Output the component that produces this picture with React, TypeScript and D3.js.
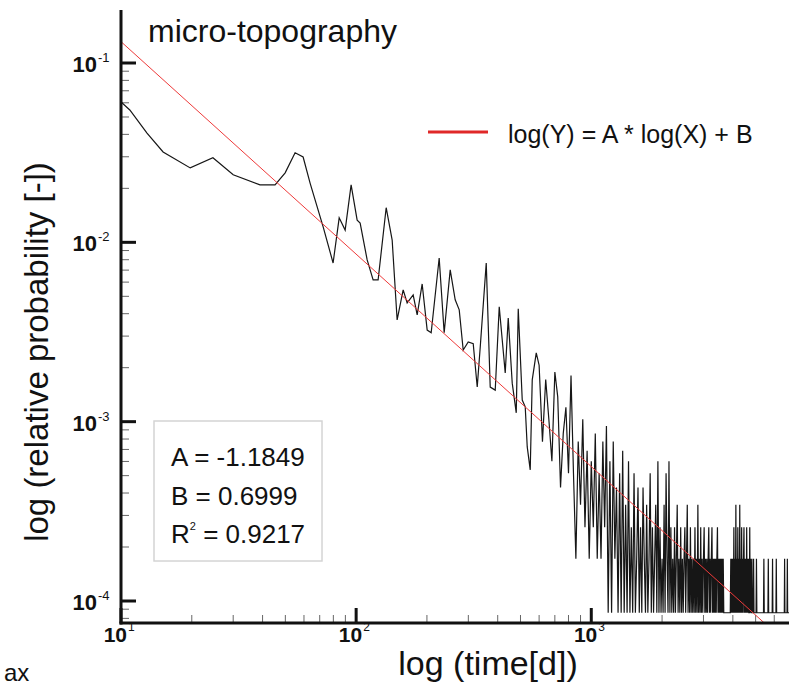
import React, { useEffect, useRef } from "react";
import * as d3 from "d3";

// smooth part of the curve, read vertex by vertex
const headDays = [
  10.0, 10.9, 12.9, 15.1, 19.7, 24.6, 30.0, 39.0, 45.2, 49.9, 55.0, 59.5, 63.7, 72.4, 79.8,
  84.7, 89.8, 95.2, 101, 104, 111.4, 118.1, 124, 134.2, 142.3, 149.4, 158.5, 164.8, 174.8,
  181.8, 190.9, 200.5, 208.5, 225.5, 236.8, 251.2, 263.8, 274.4, 285.3, 299.7, 314.7, 327.3,
  337.1, 357.5, 371.7, 390.4, 406, 430.5, 443.4, 461.1, 479.6, 489.1, 508.6, 523.7, 534.1,
  550, 560.9, 583.4,
];
const headProbs = [
  0.0607, 0.0547, 0.0407, 0.0319, 0.026, 0.0296, 0.0238, 0.0209, 0.0209, 0.0244, 0.0316,
  0.0299, 0.0214, 0.0122, 0.00767, 0.0137, 0.0117, 0.0209, 0.0133, 0.0128, 0.00798, 0.00617,
  0.00617, 0.0156, 0.0103, 0.00369, 0.00543, 0.00459, 0.00509, 0.00394, 0.00586, 0.00324,
  0.00313, 0.00818, 0.00313, 0.00702, 0.00478, 0.0042, 0.00251, 0.00278, 0.00272, 0.00156,
  0.00261, 0.00767, 0.00156, 0.0015, 0.00437, 0.00187, 0.00378, 0.00164, 0.00112, 0.00426,
  0.00132, 0.00121, 0.000723, 0.000538, 0.00171, 0.00242,
];

// noisy tail: counts sampled every 20 days from day 600
const tailStartDay = 600;
const tailStepDays = 20;
const probPerCount = 8.6e-5;
const tailCounts = [
  24, 9, 20, 12, 7, 22, 16, 5, 10, 14,
  6, 21, 6, 2, 9, 4, 12, 3, 8, 2,
  7, 3, 10, 2, 6, 2, 9, 3, 11, 1,
  7, 1, 9, 2, 5, 1, 6, 1, 8, 1,
  4, 1, 7, 1, 3, 1, 6, 1, 2, 5,
  1, 3, 1, 5, 2, 1, 4, 1, 2, 6,
  1, 3, 1, 2, 4, 1, 7, 1, 3, 1,
  2, 1, 4, 1, 6, 2, 1, 7, 1, 3,
  1, 2, 1, 3, 1, 2, 4, 1, 2, 1,
  3, 1, 2, 1, 2, 3, 1, 2, 4, 1,
  2, 1, 3, 1, 2, 1, 2, 1, 3, 1,
  2, 1, 4, 1, 2, 1, 3, 1, 2, 1,
  2, 3, 1, 2, 1, 2, 1, 2, 3, 1,
  2, 1, 2, 3, 1, 2, 1, 2, 1, 2,
  1, 2, 3, 1, 2, 1, 2, 1, 2, 1,
  2, 1, 2, 1, 1, 1, 1, 1, 1, 1,
  1, 1, 1, 1, 1, 1, 2, 1, 2, 1,
  2, 1, 3, 1, 2, 1, 4, 1, 2, 1,
  3, 1, 2, 1, 4, 1, 2, 1, 3, 1,
  2, 1, 2, 3, 1, 2, 1, 2, 1, 3,
  1, 2, 1, 2, 1, 1, 3, 1, 2, 1,
  1, 2, 1, 1, 1, 2, 1, 1, 1, 1,
  1, 1, 2, 1, 1, 1, 1, 1, 1, 1,
  1, 1, 1, 1, 1, 1, 1, 1, 1, 1,
  1, 2, 1, 1, 1, 1, 1, 1, 1, 1,
  1, 1, 1, 2, 1, 1, 1, 1, 1, 1,
  1, 1, 1, 1, 1, 2, 1, 1, 1, 1,
  1, 1, 1, 1, 1, 1, 2, 1, 1, 1,
  1, 1, 1, 1, 1, 1, 1, 1, 1, 1,
  1, 1, 1, 1, 1, 1, 1, 1, 1, 1,
  1, 1, 2, 1, 1, 1, 1, 1, 1, 1,
  1, 2, 1, 1, 1, 1, 1, 1, 1, 1, 1,
];

const fitA = -1.1849;
const fitB = 0.6999;
const fitR2 = 0.9217;

const xMajorTicks = [10, 100, 1000];
const xTickExp = ["1", "2", "3"];
const yMajorTicks = [1e-1, 1e-2, 1e-3, 1e-4];
const yTickExp = ["-1", "-2", "-3", "-4"];

const FONT = "'Liberation Sans', Arial, sans-serif";

export default function App() {
  const ref = useRef<SVGSVGElement>(null);

  useEffect(() => {
    const svg = d3.select(ref.current);
    svg.selectAll("*").remove();

    const left = 121, right = 790, top = 10, bottom = 623;
    const x = d3.scaleLog().domain([10, 7000]).range([121, 790]);
    const y = d3.scaleLog().domain([1e-4, 1e-1]).range([601, 63]);

    const series: [number, number][] = headDays.map((d, i) => [d, headProbs[i]]);
    tailCounts.forEach((c, i) => series.push([tailStartDay + i * tailStepDays, c * probPerCount]));

    svg.append("defs").append("clipPath").attr("id", "plotclip")
      .append("rect").attr("x", left).attr("y", top)
      .attr("width", right - left).attr("height", bottom - top);

    // minor ticks first, data drawn over them
    const xMinor = x.ticks().filter((t) => !xMajorTicks.includes(t));
    svg.append("g").selectAll("line").data(xMinor).join("line")
      .attr("x1", (d) => x(d)).attr("x2", (d) => x(d))
      .attr("y1", bottom).attr("y2", bottom - 8)
      .attr("stroke", "#666").attr("stroke-width", 1);

    const yMinor = d3.scaleLog().domain([7.6e-5, 0.199]).ticks()
      .filter((t) => !yMajorTicks.some((m) => Math.abs(m - t) / m < 1e-6));
    svg.append("g").selectAll("line").data(yMinor).join("line")
      .attr("x1", left).attr("x2", left + 8)
      .attr("y1", (d) => y(d)).attr("y2", (d) => y(d))
      .attr("stroke", "#666").attr("stroke-width", 1);

    const plot = svg.append("g").attr("clip-path", "url(#plotclip)");
    const line = d3.line<[number, number]>().x((d) => x(d[0])).y((d) => y(d[1]));
    plot.append("path").datum(series)
      .attr("d", line)
      .attr("fill", "none")
      .attr("stroke", "#161616")
      .attr("stroke-width", 1.2);

    // fitted power law, ln(Y) = A ln(X) + B
    const fitPts: [number, number][] = [10, 7000].map((d) => [d, Math.exp(fitA * Math.log(d) + fitB)]);
    plot.append("path").datum(fitPts)
      .attr("d", line)
      .attr("fill", "none")
      .attr("stroke", "#ee3a3a")
      .attr("stroke-width", 1);

    // axes
    svg.append("line").attr("x1", left).attr("x2", left).attr("y1", top).attr("y2", bottom + 1.5)
      .attr("stroke", "#111").attr("stroke-width", 3);
    svg.append("line").attr("x1", left - 1.5).attr("x2", 789).attr("y1", bottom).attr("y2", bottom)
      .attr("stroke", "#111").attr("stroke-width", 3);

    svg.append("g").selectAll("line").data(xMajorTicks).join("line")
      .attr("x1", (d) => x(d)).attr("x2", (d) => x(d))
      .attr("y1", bottom).attr("y2", bottom - 15)
      .attr("stroke", "#111").attr("stroke-width", 3);
    svg.append("g").selectAll("line").data(yMajorTicks).join("line")
      .attr("x1", left).attr("x2", left + 15)
      .attr("y1", (d) => y(d)).attr("y2", (d) => y(d))
      .attr("stroke", "#111").attr("stroke-width", 3);

    const xl = svg.append("g").attr("font-family", FONT).attr("fill", "#111");
    xMajorTicks.forEach((t, i) => {
      xl.append("text").attr("x", x(t) + 6).attr("y", 642).attr("text-anchor", "end")
        .attr("font-size", 21).attr("font-weight", "bold").text("10");
      xl.append("text").attr("x", x(t) + 7).attr("y", 631)
        .attr("font-size", 12).text(xTickExp[i]);
    });
    yMajorTicks.forEach((t, i) => {
      xl.append("text").attr("x", 97).attr("y", y(t) + 9).attr("text-anchor", "end")
        .attr("font-size", 22).attr("font-weight", "bold").text("10");
      xl.append("text").attr("x", 98).attr("y", y(t) - 1)
        .attr("font-size", 13).text(yTickExp[i]);
    });

    // fit parameter box
    svg.append("rect").attr("x", 154).attr("y", 421).attr("width", 168).attr("height", 140)
      .attr("fill", "#fff").attr("stroke", "#d4d4d4").attr("stroke-width", 1.5);

    // titles
    const tx = svg.append("g").attr("font-family", FONT).attr("fill", "#111");
    tx.append("text").attr("x", 488).attr("y", 675).attr("text-anchor", "middle")
      .attr("font-size", 34).text("log (time[d])");
    tx.append("text").attr("transform", "translate(48,352) rotate(-90)")
      .attr("text-anchor", "middle").attr("font-size", 33)
      .text("log (relative probability [-])");
    tx.append("text").attr("x", 148).attr("y", 42).attr("font-size", 32).text("micro-topography");
    tx.append("text").attr("x", 4).attr("y", 681).attr("font-size", 24).text("ax");

    // legend
    svg.append("line").attr("x1", 428).attr("x2", 488).attr("y1", 132).attr("y2", 132)
      .attr("stroke", "#e02828").attr("stroke-width", 3);
    tx.append("text").attr("x", 508).attr("y", 143).attr("font-size", 25)
      .text("log(Y) = A * log(X) + B");

    tx.append("text").attr("x", 171).attr("y", 466).attr("font-size", 26).text(`A = ${fitA}`);
    tx.append("text").attr("x", 171).attr("y", 505).attr("font-size", 26).text(`B = ${fitB}`);
    const r2 = tx.append("text").attr("x", 171).attr("y", 543).attr("font-size", 26);
    r2.append("tspan").text("R");
    r2.append("tspan").attr("font-size", 11).attr("dy", -13).text("2");
    r2.append("tspan").attr("dy", 13).text(` = ${fitR2}`);
  }, []);

  return (
    <svg
      ref={ref}
      width={789}
      height={687}
      style={{ position: "absolute", left: 0, top: 0, background: "#fff" }}
    />
  );
}
